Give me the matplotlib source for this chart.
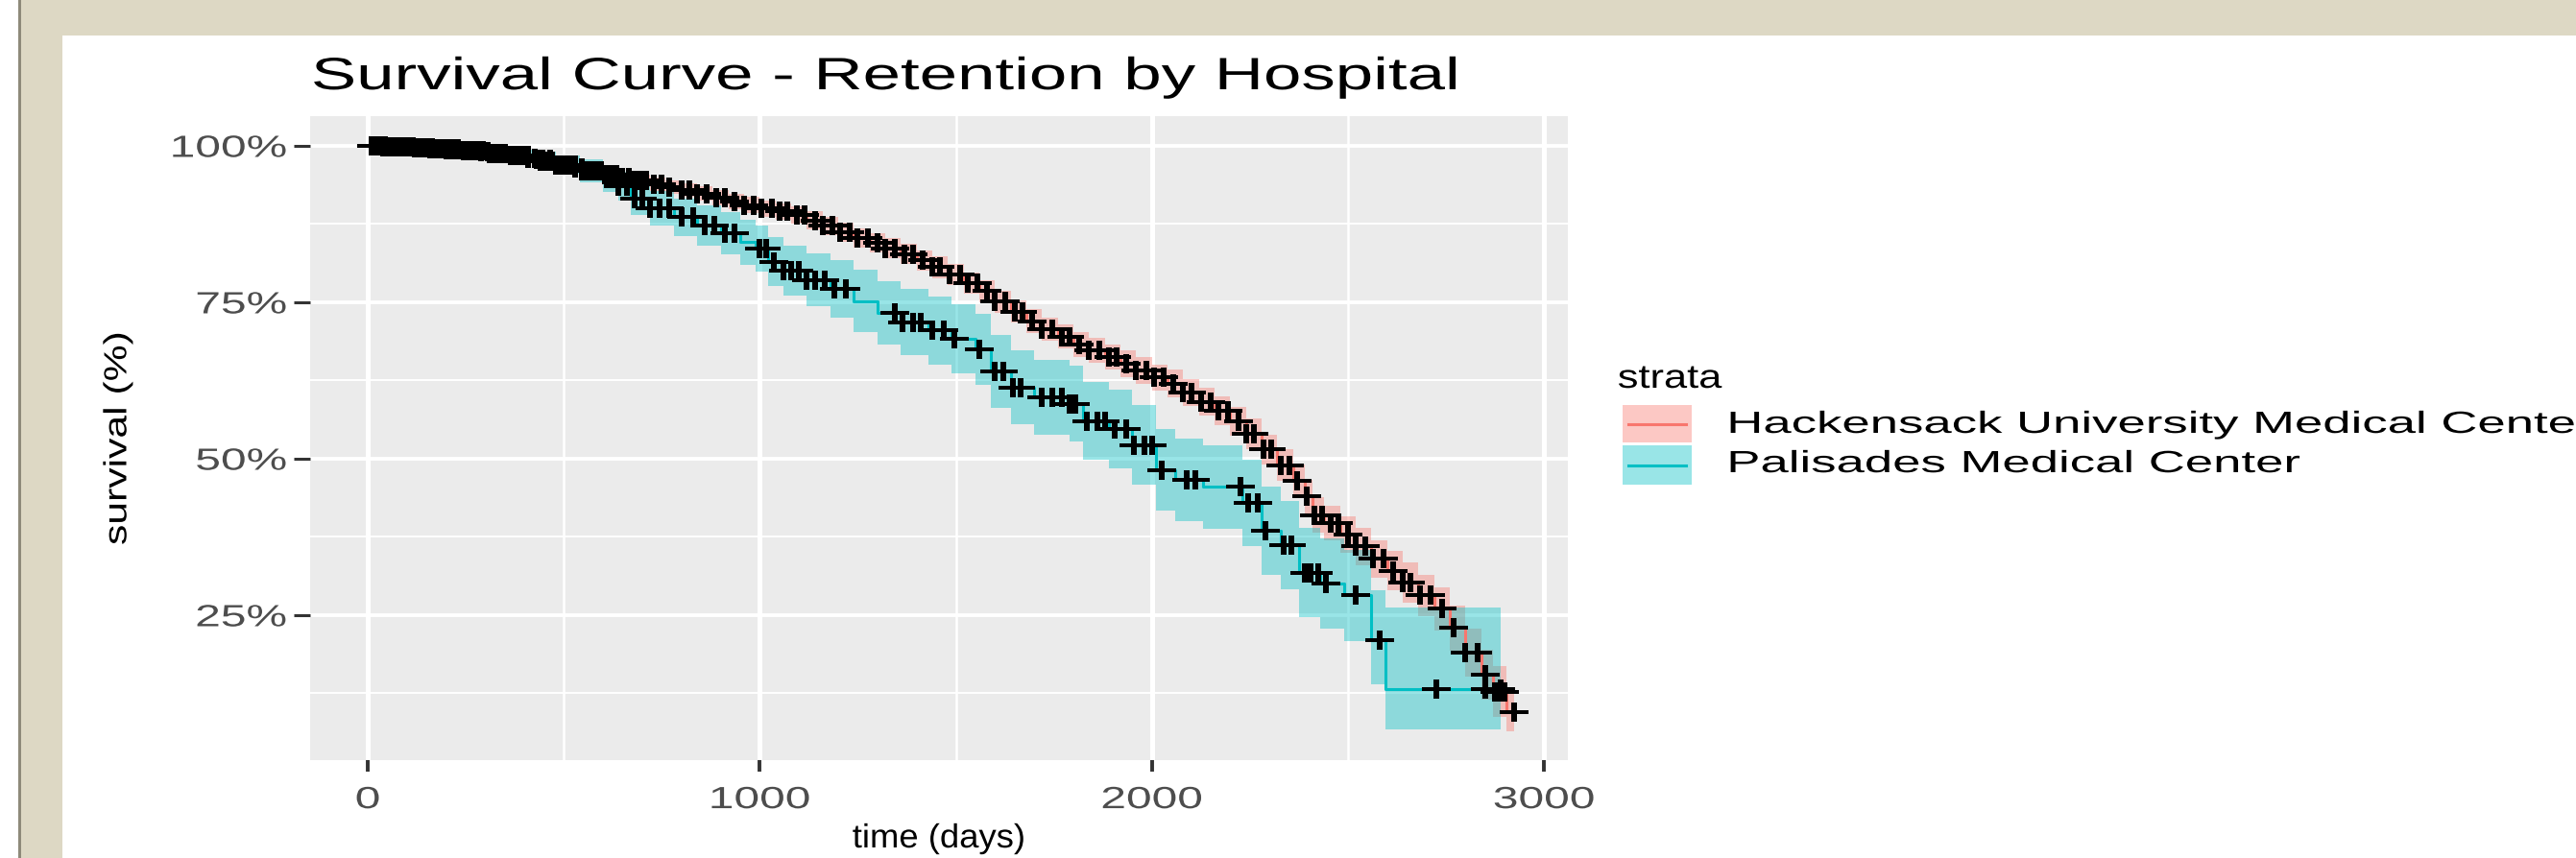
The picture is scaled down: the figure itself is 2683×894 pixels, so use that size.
import numpy as np
import matplotlib
matplotlib.use("Agg")
import matplotlib.pyplot as plt
from matplotlib import patheffects
from matplotlib.transforms import Affine2D
from matplotlib.path import Path
from matplotlib.patches import Rectangle
from matplotlib.lines import Line2D

# ---------------- data ----------------
groups = ["Hackensack University Medical Center", "Palisades Medical Center"]

hack_time = [0, 40, 80, 120, 160, 200, 240, 280, 320, 360, 400, 440, 480, 520, 560, 600,
             640, 680, 720, 760, 800, 840, 880, 920, 960, 1000, 1040, 1080, 1120, 1160,
             1200, 1240, 1280, 1320, 1360, 1400, 1440, 1480, 1520, 1560, 1600, 1640, 1680,
             1720, 1760, 1800, 1840, 1880, 1920, 1960, 2000, 2040, 2080, 2120, 2160, 2200,
             2240, 2280, 2320, 2360, 2390, 2410, 2440, 2480, 2520, 2560, 2600, 2640, 2680,
             2720, 2760, 2800, 2840, 2870, 2905, 2925]
hack_surv = [1.000, 0.999, 0.998, 0.997, 0.996, 0.994, 0.992, 0.990, 0.987, 0.984, 0.980,
             0.975, 0.970, 0.965, 0.960, 0.954, 0.949, 0.944, 0.939, 0.934, 0.929, 0.924,
             0.917, 0.911, 0.905, 0.900, 0.895, 0.889, 0.881, 0.872, 0.862, 0.853, 0.845,
             0.836, 0.827, 0.817, 0.806, 0.794, 0.781, 0.768, 0.751, 0.735, 0.720, 0.707,
             0.695, 0.683, 0.673, 0.663, 0.652, 0.641, 0.630, 0.620, 0.606, 0.591, 0.577,
             0.560, 0.540, 0.515, 0.490, 0.465, 0.440, 0.410, 0.397, 0.379, 0.360, 0.340,
             0.321, 0.302, 0.282, 0.260, 0.230, 0.190, 0.155, 0.128, 0.095, 0.095]
# half width of the confidence ribbon read at each time above
hack_ci_half = [0.000, 0.002, 0.003, 0.003, 0.004, 0.004, 0.005, 0.005, 0.006, 0.006,
                0.007, 0.007, 0.008, 0.008, 0.009, 0.009, 0.010, 0.010, 0.011, 0.011,
                0.011, 0.012, 0.012, 0.012, 0.013, 0.013, 0.013, 0.014, 0.014, 0.014,
                0.015, 0.015, 0.015, 0.016, 0.016, 0.016, 0.017, 0.017, 0.017, 0.018,
                0.018, 0.018, 0.019, 0.019, 0.019, 0.020, 0.020, 0.020, 0.021, 0.021,
                0.021, 0.022, 0.022, 0.022, 0.023, 0.023, 0.024, 0.024, 0.025, 0.026,
                0.027, 0.028, 0.028, 0.029, 0.030, 0.030, 0.031, 0.032, 0.033, 0.034,
                0.036, 0.038, 0.040, 0.040, 0.030, 0.030]
hack_censor = [10, 20, 30, 40, 50, 60, 70, 85, 100, 110, 120, 135, 150, 160, 170, 185, 200,
               215, 230, 245, 260, 275, 290, 305, 320, 335, 350, 365, 380, 395, 410, 425,
               440, 455, 470, 485, 500, 515, 530, 545, 560, 575, 590, 605, 620, 635, 650,
               665, 680, 695, 710, 730, 750, 770, 800, 820, 840, 865, 890, 910, 935, 960,
               985, 1005, 1030, 1050, 1070, 1095, 1115, 1140, 1160, 1185, 1205, 1230,
               1250, 1275, 1300, 1320, 1345, 1370, 1390, 1415, 1440, 1460, 1485, 1510,
               1530, 1555, 1580, 1600, 1625, 1650, 1670, 1695, 1720, 1745, 1770, 1790,
               1815, 1840, 1865, 1890, 1910, 1935, 1960, 1985, 2005, 2030, 2055, 2080,
               2100, 2125, 2150, 2170, 2195, 2220, 2240, 2260, 2285, 2305, 2330, 2350,
               2370, 2395, 2415, 2435, 2455, 2475, 2500, 2520, 2545, 2565, 2590, 2615,
               2640, 2660, 2685, 2710, 2740, 2770, 2800, 2830, 2850, 2875, 2890, 2900,
               2925]

pal_time = [0, 60, 120, 180, 240, 300, 360, 420, 480, 540, 600, 640, 670, 720, 780, 840,
            900, 950, 990, 1020, 1060, 1120, 1180, 1240, 1300, 1360, 1430, 1490, 1550,
            1590, 1640, 1700, 1790, 1825, 1890, 1950, 2010, 2060, 2130, 2230, 2280, 2330,
            2375, 2430, 2490, 2560, 2595, 2890]
pal_surv = [1.000, 0.999, 0.997, 0.995, 0.992, 0.988, 0.984, 0.978, 0.970, 0.960, 0.948,
            0.935, 0.915, 0.900, 0.886, 0.873, 0.860, 0.846, 0.836, 0.815, 0.800, 0.786,
            0.772, 0.752, 0.733, 0.718, 0.705, 0.692, 0.675, 0.640, 0.614, 0.598, 0.588,
            0.560, 0.548, 0.522, 0.482, 0.466, 0.455, 0.430, 0.385, 0.362, 0.318, 0.300,
            0.282, 0.210, 0.132, 0.132]
pal_lo = [1.000, 0.997, 0.994, 0.990, 0.986, 0.980, 0.974, 0.965, 0.955, 0.942, 0.927,
          0.912, 0.890, 0.872, 0.856, 0.841, 0.826, 0.810, 0.799, 0.776, 0.760, 0.744,
          0.726, 0.702, 0.682, 0.665, 0.651, 0.637, 0.618, 0.582, 0.555, 0.538, 0.527,
          0.498, 0.485, 0.458, 0.417, 0.400, 0.388, 0.361, 0.315, 0.291, 0.247, 0.228,
          0.209, 0.140, 0.068, 0.068]
pal_hi = [1.000, 1.000, 1.000, 1.000, 0.998, 0.996, 0.994, 0.991, 0.985, 0.978, 0.969,
          0.958, 0.940, 0.928, 0.916, 0.905, 0.894, 0.882, 0.873, 0.854, 0.840, 0.828,
          0.818, 0.802, 0.784, 0.771, 0.759, 0.747, 0.732, 0.698, 0.673, 0.658, 0.649,
          0.622, 0.611, 0.586, 0.547, 0.532, 0.522, 0.499, 0.455, 0.433, 0.389, 0.372,
          0.355, 0.290, 0.262, 0.262]
pal_censor = [15, 30, 45, 60, 75, 90, 115, 130, 150, 165, 180, 200, 215, 230, 245, 265,
              280, 295, 310, 330, 345, 365, 380, 395, 410, 430, 445, 465, 480, 495, 510,
              530, 545, 565, 580, 595, 610, 625, 640, 660, 680, 700, 720, 745, 770, 800,
              830, 860, 885, 910, 935, 1000, 1015, 1035, 1060, 1080, 1100, 1120, 1140,
              1165, 1190, 1220, 1345, 1365, 1390, 1410, 1440, 1470, 1495, 1560, 1600,
              1620, 1645, 1665, 1720, 1745, 1770, 1790, 1805, 1835, 1860, 1880, 1905,
              1935, 1955, 1980, 2000, 2025, 2090, 2110, 2225, 2245, 2270, 2290, 2335,
              2355, 2390, 2405, 2425, 2445, 2520, 2580, 2725, 2850, 2890]

x_ticks = [0, 1000, 2000, 3000]
x_ticklabels = ["0", "1000", "2000", "3000"]
y_ticks = [0.25, 0.50, 0.75, 1.00]
y_ticklabels = ["25%", "50%", "75%", "100%"]

# ---------------- style ----------------
W, H, DPI = 2683, 895, 100
RED, CYAN = "#F8766D", "#00BFC4"
SX = 1.5  # the glyphs in the reference are drawn wide

plt.rcParams["font.family"] = ["Liberation Sans", "DejaVu Sans"]


class Stretch(patheffects.AbstractPathEffect):
    """Widen the glyphs along the text baseline (the text stays a Text artist)."""

    def __init__(self, sx=SX, anchor="center"):
        super().__init__()
        self.sx = sx
        self.anchor = anchor

    def draw_path(self, renderer, gc, tpath, affine, rgbFace=None):
        if len(tpath.vertices) == 0:
            renderer.draw_path(gc, tpath, affine, rgbFace)
            return
        ext = tpath.get_extents()
        if self.anchor == "left":
            a = ext.x0
        elif self.anchor == "right":
            a = ext.x1
        else:
            a = 0.5 * (ext.x0 + ext.x1)
        local = Affine2D().translate(-a, 0).scale(self.sx, 1).translate(a, 0)
        renderer.draw_path(gc, tpath, local + affine, rgbFace)


def px(x):
    return x / W


def py(y):
    return 1 - y / H


fig = plt.figure(figsize=(W / DPI, H / DPI), dpi=DPI)
fig.patch.set_facecolor("white")

# screenshot frame
BEIGE = "#DDD8C4"
fig.add_artist(Rectangle((px(22), 0), px(65 - 22), 1, transform=fig.transFigure,
                         facecolor=BEIGE, edgecolor="none", zorder=-5))
fig.add_artist(Rectangle((px(22), py(38)), 1, 38 / H, transform=fig.transFigure,
                         facecolor=BEIGE, edgecolor="none", zorder=-5))
fig.add_artist(Rectangle((px(19), 0), px(3), 1, transform=fig.transFigure,
                         facecolor="#8E8A7A", edgecolor="none", zorder=-4))

# panel
left, right, top, bottom = 323, 1633, 122, 793
ax = fig.add_axes([px(left), py(bottom), px(right - left), (bottom - top) / H])
ax.set_facecolor("#EBEBEB")
for s in ax.spines.values():
    s.set_visible(False)
ax.set_xlim(-147, 3061)
ax.set_ylim(0.0184, 1.0475)

ax.set_xticks(x_ticks, labels=x_ticklabels)
ax.set_xticks([500, 1500, 2500], minor=True)
ax.set_yticks(y_ticks, labels=y_ticklabels)
ax.set_yticks([0.125, 0.375, 0.625, 0.875], minor=True)
ax.set_axisbelow(True)
ax.xaxis.grid(True, which="major", color="white", lw=3.6)
ax.xaxis.grid(True, which="minor", color="white", lw=1.8)
ax.yaxis.grid(True, which="major", color="white", lw=2.8)
ax.yaxis.grid(True, which="minor", color="white", lw=1.4)
ax.tick_params(which="minor", length=0)
ax.tick_params(axis="x", which="major", length=8.5, width=2.8, color="#333333",
               pad=11.0, labelsize=23, labelcolor="#4D4D4D")
ax.tick_params(axis="y", which="major", length=12, width=2.2, color="#333333",
               pad=5.5, labelsize=23, labelcolor="#4D4D4D")
for t in ax.xaxis.get_major_ticks():
    t.label1.set_path_effects([Stretch(SX, "center")])
for t in ax.yaxis.get_major_ticks():
    t.label1.set_path_effects([Stretch(SX, "right")])

# censor mark: a "+" that is wider than tall, filled so each arm has its own thickness
hx, hy, th, tv = 1.5, 1.0, 0.23, 0.32
plus = Path([(-hx, -th), (-tv, -th), (-tv, -hy), (tv, -hy), (tv, -th), (hx, -th),
             (hx, th), (tv, th), (tv, hy), (-tv, hy), (-tv, th), (-hx, th), (-hx, -th)],
            [Path.MOVETO] + [Path.LINETO] * 11 + [Path.CLOSEPOLY])

hack_t = np.asarray(hack_time)
hack_s = np.asarray(hack_surv)
hack_h = np.asarray(hack_ci_half)
series = [
    (hack_t, hack_s, hack_s - hack_h, np.minimum(1.0, hack_s + hack_h), hack_censor, RED),
    (np.asarray(pal_time), np.asarray(pal_surv), pal_lo, pal_hi, pal_censor, CYAN),
]
for tt, ss, lo, hi, cen, col in series:
    ax.fill_between(tt, lo, hi, step="post", color=col, alpha=0.4, lw=0, zorder=2)
for tt, ss, lo, hi, cen, col in series:
    ax.step(tt, ss, where="post", color=col, lw=2.2, zorder=3)
for tt, ss, lo, hi, cen, col in series:
    idx = np.searchsorted(tt, np.asarray(cen), side="right") - 1
    ax.plot(cen, ss[idx], ls="none", marker=plus, ms=21, mew=0,
            mfc="black", mec="black", zorder=4)

# texts
fig.text(px(325), py(94), "Survival Curve - Retention by Hospital", ha="left",
         va="baseline", fontsize=34, color="black",
         path_effects=[Stretch(SX, "left")])
fig.text(px((left + right) / 2), py(884), "time (days)", ha="center", va="baseline",
         fontsize=25, color="black", path_effects=[Stretch(1.05, "center")])
fig.text(px(123), py((top + bottom) / 2), "survival (%)", ha="center", va="center",
         rotation=90, fontsize=24, color="black", path_effects=[Stretch(1.28, "center")])

# legend
fig.text(px(1685), py(405), "strata", ha="left", va="baseline", fontsize=25,
         color="black", path_effects=[Stretch(1.25, "left")])
key_x0, key_w = 1690, 72
key_rows = [(423, 462, RED, 452), (465, 506, CYAN, 493)]
for (y0, y1, col, base), name in zip(key_rows, groups):
    fig.add_artist(Rectangle((px(key_x0), py(y1)), px(key_w), (y1 - y0) / H,
                             transform=fig.transFigure, facecolor=col, alpha=0.4,
                             edgecolor="none"))
    ym = py((y0 + y1) / 2)
    fig.add_artist(Line2D([px(key_x0 + 6), px(key_x0 + key_w - 6)], [ym, ym],
                          transform=fig.transFigure, color=col, lw=2.2))
    fig.text(px(1800), py(base), name, ha="left", va="baseline", fontsize=23,
             color="black", path_effects=[Stretch(1.65, "left")])

fig.savefig("out.png", dpi=DPI, facecolor=fig.get_facecolor())
